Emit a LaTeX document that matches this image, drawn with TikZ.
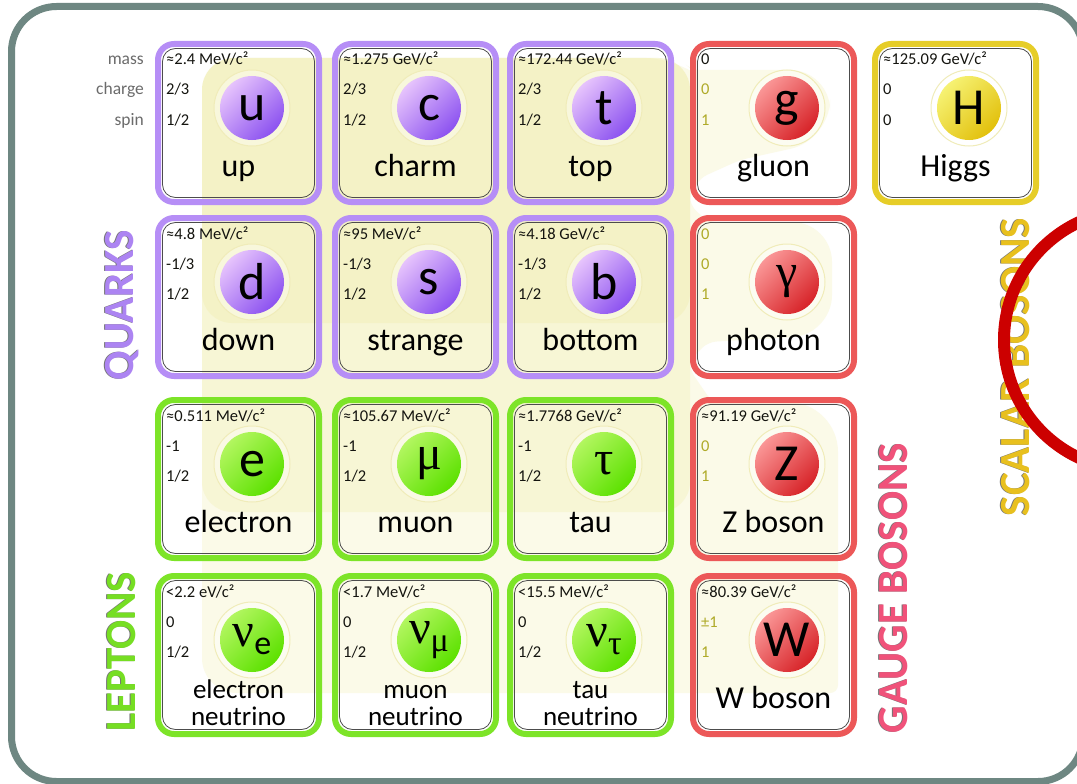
\documentclass[tikz,border=0pt]{standalone}
\usepackage{fontspec}
\setmainfont{Carlito}
\newfontfamily\greekfont{Liberation Serif}
\definecolor{frame}{RGB}{110,135,130}
\definecolor{qborder}{RGB}{182,142,246}
\definecolor{lborder}{RGB}{125,228,40}
\definecolor{gborder}{RGB}{236,88,88}
\definecolor{hborder}{RGB}{230,205,40}
\definecolor{qlight}{RGB}{230,195,252}
\definecolor{qdark}{RGB}{140,82,240}
\definecolor{llight}{RGB}{178,246,95}
\definecolor{ldark}{RGB}{92,225,0}
\definecolor{glight}{RGB}{250,150,150}
\definecolor{gdark}{RGB}{215,35,40}
\definecolor{hlight}{RGB}{246,242,115}
\definecolor{hdark}{RGB}{226,192,12}
\definecolor{regionfill}{RGB}{235,230,140}
\definecolor{olivetext}{RGB}{175,170,40}
\definecolor{valdark}{RGB}{20,20,15}
\definecolor{qtitle}{RGB}{172,132,242}
\definecolor{ltitle}{RGB}{118,222,35}
\definecolor{gtitle}{RGB}{240,82,122}
\definecolor{htitle}{RGB}{232,192,30}
\definecolor{bigring}{RGB}{204,0,0}
\definecolor{halodraw}{RGB}{240,236,185}
\tikzset{
  cardbox/.style={draw=#1, line width=6pt, rounded corners=16pt, minimum width=161pt, minimum height=158pt, inner sep=0pt},
  cardline/.style={draw=black!70, line width=0.8pt, rounded corners=13pt, minimum width=152pt, minimum height=149pt, inner sep=0pt},
  halo/.style={circle, minimum size=76pt, inner sep=0pt, fill=white, fill opacity=0.4, draw=halodraw, line width=1pt},
  ball/.style 2 args={circle, minimum size=64pt, inner sep=0pt, top color=#1, bottom color=#2, shading angle=45, font=\fontsize{52}{52}\selectfont},
  valtext/.style={anchor=base west, inner sep=0pt, font=\fontsize{16.5}{16.5}\selectfont},
  proplabel/.style={anchor=base east, inner sep=0pt, text=black!58, font=\fontsize{17.5}{17.5}\selectfont},
  nametext/.style={anchor=base, inner sep=0pt, font=\fontsize{32}{32}\selectfont},
  nutext/.style={anchor=base, inner sep=0pt, font=\fontsize{27}{27}\selectfont},
  title/.style={rotate=90, inner sep=0pt, font=\fontsize{43}{43}\selectfont\bfseries},
  region/.style={fill=regionfill, fill opacity=0.2}
}
\newcommand\pcard[5]{%
  \node[cardbox=#4border] (#1) at ({#2+80.5},{#3+79}) {};
  \node[cardline] (#1-in) at (#1.center) {};
  \node[halo] (#1-halo) at ({#2+94},{#3+64}) {};
  \node[ball={#4light}{#4dark}] (#1-ball) at (#1-halo.center) {#5};
}
\newcommand\pvals[8]{%
  \node[valtext, text=#7] (#1-mass) at ({#2+8},{#3+21}) {#4};
  \node[valtext, text=#8] (#1-charge) at ({#2+8},{#3+51}) {#5};
  \node[valtext, text=#8] (#1-spin) at ({#2+8},{#3+81}) {#6};
}
\newcommand\pname[4]{%
  \node[nametext] (#1-name) at ({#2+80.5},{#3+132}) {#4};
}
\newcommand\nuname[5]{%
  \node[nutext] (#1-name1) at ({#2+80.5},{#3+122}) {#4};
  \node[nutext] (#1-name2) at ({#2+80.5},{#3+149}) {#5};
}
\newcommand\nusym[1]{{\greekfont\fontsize{48}{48}\selectfont ν}\raisebox{-8pt}{\fontsize{34}{34}\selectfont #1}}
\newcommand\gsym[1]{{\greekfont\fontsize{48}{48}\selectfont #1}}
\begin{document}
\begin{tikzpicture}[x=1pt,y=-1pt]
\useasboundingbox (0,0) rectangle (1077,784);
\clip (0,0) rectangle (1077,784);
\fill[white] (0,0) rectangle (1077,784);
% outer frame
\draw[frame, line width=7pt, rounded corners=45pt] (11.5,6.5) rectangle (1083,781.5);
% interaction regions
\fill[region] (202,400) [rounded corners=32pt] -- (202,58) -- (690,58) [rounded corners=8pt] -- (690,370) -- (712,402) [rounded corners=50pt] -- (838,402) [rounded corners=8pt] -- (838,693) [rounded corners=35pt] -- (202,693) -- cycle;
\fill[region] (202,300) [rounded corners=32pt] -- (202,58) -- (690,58) [rounded corners=8pt] -- (690,205) -- (708,222) [rounded corners=40pt] -- (832,222) -- (832,335) [rounded corners=8pt] -- (708,342) -- (690,360) [rounded corners=30pt] -- (690,512) -- (202,512) -- cycle;
\fill[region] (202,200) [rounded corners=32pt] -- (202,58) -- (678,58) [rounded corners=8pt] -- (692,70) [rounded corners=40pt] -- (830,70) -- (830,140) [rounded corners=8pt] -- (740,160) -- (700,178) -- (690,195) [rounded corners=30pt] -- (690,323) -- (202,323) -- cycle;
% property labels
\node[proplabel] (lbl-mass) at (144,65) {mass};
\node[proplabel] (lbl-charge) at (144,95) {charge};
\node[proplabel] (lbl-spin) at (144,125) {spin};
% row 1
\pcard{u}{158}{44}{q}{u}
\pvals{u}{158}{44}{≈2.4 MeV/c²}{2/3}{1/2}{valdark}{valdark}
\pname{u}{158}{44}{up}
\pcard{c}{335}{44}{q}{c}
\pvals{c}{335}{44}{≈1.275 GeV/c²}{2/3}{1/2}{valdark}{valdark}
\pname{c}{335}{44}{charm}
\pcard{t}{510}{44}{q}{t}
\pvals{t}{510}{44}{≈172.44 GeV/c²}{2/3}{1/2}{valdark}{valdark}
\pname{t}{510}{44}{top}
\pcard{g}{693}{44}{g}{g}
\pvals{g}{693}{44}{0}{0}{1}{valdark}{olivetext}
\pname{g}{693}{44}{gluon}
\pcard{H}{875}{44}{h}{H}
\pvals{H}{875}{44}{≈125.09 GeV/c²}{0}{0}{valdark}{valdark}
\pname{H}{875}{44}{Higgs}
% row 2
\pcard{d}{158}{218}{q}{d}
\pvals{d}{158}{218}{≈4.8 MeV/c²}{-1/3}{1/2}{valdark}{valdark}
\pname{d}{158}{218}{down}
\pcard{s}{335}{218}{q}{s}
\pvals{s}{335}{218}{≈95 MeV/c²}{-1/3}{1/2}{valdark}{valdark}
\pname{s}{335}{218}{strange}
\pcard{b}{510}{218}{q}{b}
\pvals{b}{510}{218}{≈4.18 GeV/c²}{-1/3}{1/2}{valdark}{valdark}
\pname{b}{510}{218}{bottom}
\pcard{gamma}{693}{218}{g}{\gsym{γ}}
\pvals{gamma}{693}{218}{0}{0}{1}{olivetext}{olivetext}
\pname{gamma}{693}{218}{photon}
% row 3
\pcard{e}{158}{400}{l}{e}
\pvals{e}{158}{400}{≈0.511 MeV/c²}{-1}{1/2}{valdark}{valdark}
\pname{e}{158}{400}{electron}
\pcard{mu}{335}{400}{l}{\gsym{μ}}
\pvals{mu}{335}{400}{≈105.67 MeV/c²}{-1}{1/2}{valdark}{valdark}
\pname{mu}{335}{400}{muon}
\pcard{tau}{510}{400}{l}{\gsym{τ}}
\pvals{tau}{510}{400}{≈1.7768 GeV/c²}{-1}{1/2}{valdark}{valdark}
\pname{tau}{510}{400}{tau}
\pcard{Z}{693}{400}{g}{Z}
\pvals{Z}{693}{400}{≈91.19 GeV/c²}{0}{1}{valdark}{olivetext}
\pname{Z}{693}{400}{Z boson}
% row 4
\pcard{nue}{158}{576}{l}{\nusym{e}}
\pvals{nue}{158}{576}{<2.2 eV/c²}{0}{1/2}{valdark}{valdark}
\nuname{nue}{158}{576}{electron}{neutrino}
\pcard{numu}{335}{576}{l}{\nusym{\greekfont μ}}
\pvals{numu}{335}{576}{<1.7 MeV/c²}{0}{1/2}{valdark}{valdark}
\nuname{numu}{335}{576}{muon}{neutrino}
\pcard{nutau}{510}{576}{l}{\nusym{\greekfont τ}}
\pvals{nutau}{510}{576}{<15.5 MeV/c²}{0}{1/2}{valdark}{valdark}
\nuname{nutau}{510}{576}{tau}{neutrino}
\pcard{W}{693}{576}{g}{W}
\pvals{W}{693}{576}{≈80.39 GeV/c²}{±1}{1}{valdark}{olivetext}
\pname{W}{693}{576}{W boson}
% group titles
\node[title, text=black!55] (quarks-sh) at (121,305) {QUARKS};
\node[title, text=qtitle] (quarks) at (122,305) {QUARKS};
\node[title, text=black!55] (leptons-sh) at (121,652) {LEPTONS};
\node[title, text=ltitle] (leptons) at (122,652) {LEPTONS};
\node[title, text=black!55] (gauge-sh) at (893,588) {GAUGE BOSONS};
\node[title, text=gtitle] (gauge) at (894,588) {GAUGE BOSONS};
\node[title, text=black!55] (scalar-sh) at (1015,367) {SCALAR BOSONS};
\node[title, text=htitle] (scalar) at (1016,367) {SCALAR BOSONS};
% big red ring
\draw[bigring, line width=12pt] (1134,340) circle [radius=130pt];
\end{tikzpicture}
\end{document}
